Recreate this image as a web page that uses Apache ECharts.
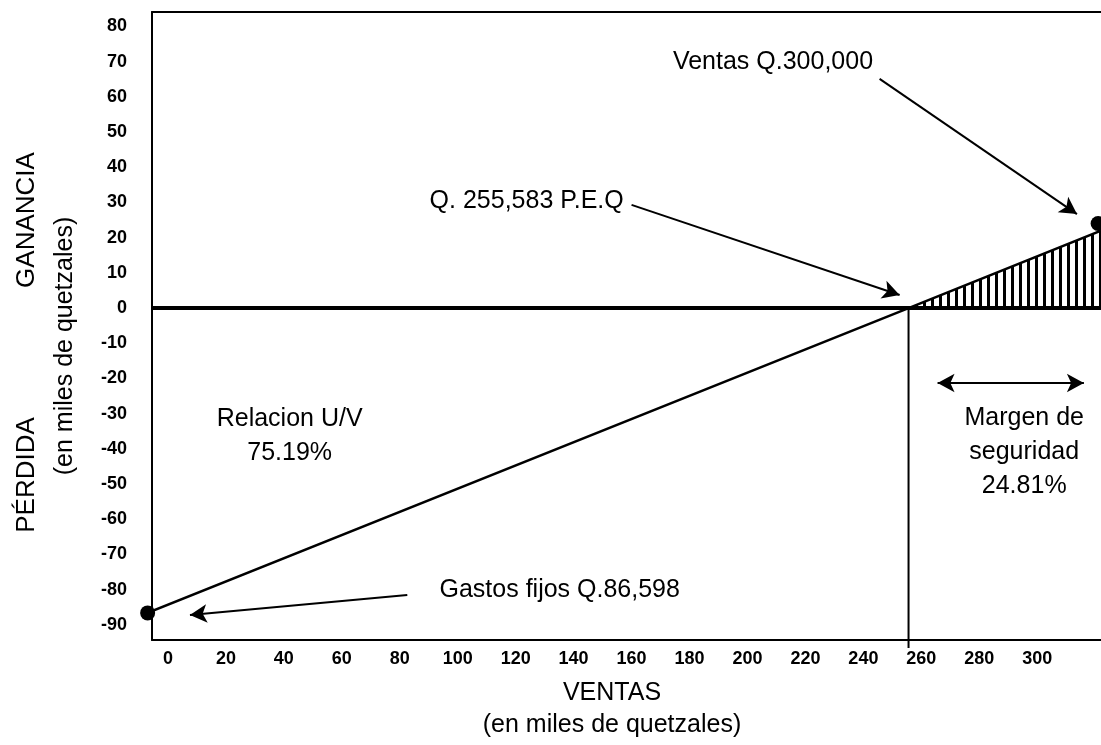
<!DOCTYPE html>
<html>
<head>
<meta charset="utf-8">
<script src="https://cdn.jsdelivr.net/npm/echarts@6/dist/echarts.min.js"></script>
<style>
html,body{margin:0;padding:0;background:#fff;}
#chart{width:1101px;height:745px;}
</style>
</head>
<body>
<div id="chart"></div>
<script>
// ---- data (miles de quetzales) ----
const salesTicks = [0,20,40,60,80,100,120,140,160,180,200,220,240,260,280,300];
const profitTicks = [-90,-80,-70,-60,-50,-40,-30,-20,-10,0,10,20,30,40,50,60,70,80];
const fixedCosts = -86.598;
const breakEvenSales = 255.583;
const profitLine = [[-7, fixedCosts], [breakEvenSales, 0], [322, 22]];
const profitArea = [[breakEvenSales, 0], [322, 22]];
const zeroLine = [[-5.5, 0], [322, 0]];
const breakEvenDrop = [[breakEvenSales, 0], [breakEvenSales, -96.6]];
const endDots = [[-7, fixedCosts], [321, 24]];

// annotation texts placed in data coordinates
const noteTexts = [
  {text: 'Ventas Q.300,000', at: [208.8, 69.9]},
  {text: 'Q. 255,583 P.E.Q', at: [123.8, 30.4]},
  {text: 'Gastos fijos Q.86,598', at: [135.2, -80.1]},
  {text: 'Relacion U/V\n75.19%', at: [42.0, -36.4]},
  {text: 'Margen de\nseguridad\n24.81%', at: [295.5, -40.9]}
];
const noteArrows = [
  {from: [245.6, 65.1], to: [313.7, 26.7], both: false},
  {from: [160.0, 29.3], to: [252.5, 3.7], both: false},
  {from: [82.6, -81.5], to: [7.6, -87.2], both: false},
  {from: [265.6, -21.3], to: [316.1, -21.3], both: true}
];

const FONT = '"Liberation Sans", Arial, Helvetica, sans-serif';

// hatch pattern
const pat = document.createElement('canvas');
pat.width = 8; pat.height = 8;
const pctx = pat.getContext('2d');
pctx.fillStyle = '#000';
pctx.fillRect(3, 0, 3, 8);

const chart = echarts.init(document.getElementById('chart'), null, {renderer: 'canvas'});

const axisLabelStyle = {color: '#000', fontSize: 18, fontWeight: 'bold', fontFamily: FONT};

const option = {
  animation: false,
  backgroundColor: '#fff',
  grid: {left: 152, right: 0, top: 12, bottom: 105, show: false},
  xAxis: [
    {
      type: 'value', min: -5.5, max: 322, position: 'bottom',
      axisLine: {show: true, onZero: false, lineStyle: {color: '#000', width: 2}},
      axisTick: {show: false},
      splitLine: {show: false},
      axisLabel: Object.assign({customValues: salesTicks, margin: 10}, axisLabelStyle)
    },
    {
      type: 'value', min: -5.5, max: 322, position: 'top',
      axisLine: {show: true, onZero: false, lineStyle: {color: '#000', width: 2}},
      axisTick: {show: false},
      splitLine: {show: false},
      axisLabel: {show: false}
    }
  ],
  yAxis: {
    type: 'value', min: -94.3, max: 84.1,
    axisLine: {show: true, onZero: false, lineStyle: {color: '#000', width: 2}},
    axisTick: {show: false},
    splitLine: {show: false},
    axisLabel: Object.assign({customValues: profitTicks, margin: 25}, axisLabelStyle)
  },
  title: [
    {text: 'VENTAS', left: 607, top: 676, textAlign: 'center',
     textStyle: {fontSize: 25, fontWeight: 'normal', color: '#000', fontFamily: FONT}},
    {text: '(en miles de quetzales)', left: 607, top: 708, textAlign: 'center',
     textStyle: {fontSize: 25, fontWeight: 'normal', color: '#000', fontFamily: FONT}}
  ],
  graphic: [
    {type: 'text', x: 27, y: 220, rotation: Math.PI / 2,
     style: {text: 'GANANCIA', textAlign: 'center', textVerticalAlign: 'middle', fontSize: 26, fontFamily: FONT, fill: '#000'}},
    {type: 'text', x: 27, y: 475, rotation: Math.PI / 2,
     style: {text: 'PÉRDIDA', textAlign: 'center', textVerticalAlign: 'middle', fontSize: 26, fontFamily: FONT, fill: '#000'}},
    {type: 'text', x: 65, y: 346, rotation: Math.PI / 2,
     style: {text: '(en miles de quetzales)', textAlign: 'center', textVerticalAlign: 'middle', fontSize: 25, fontFamily: FONT, fill: '#000'}}
  ],
  series: [
    {
      name: 'margen', type: 'line', data: profitArea, showSymbol: false,
      lineStyle: {width: 0}, areaStyle: {color: {image: pat, repeat: 'repeat'}, opacity: 1},
      silent: true, z: 1
    },
    {
      name: 'cero', type: 'line', data: zeroLine, showSymbol: false,
      lineStyle: {color: '#000', width: 4}, silent: true, z: 3
    },
    {
      name: 'peq', type: 'line', data: breakEvenDrop, showSymbol: false, clip: false,
      lineStyle: {color: '#000', width: 2}, silent: true, z: 3
    },
    {
      name: 'utilidad', type: 'line', data: profitLine, showSymbol: false, clip: false,
      lineStyle: {color: '#000', width: 2.5}, silent: true, z: 4,
      markLine: {
        silent: true, animation: false,
        lineStyle: {color: '#000', width: 2, type: 'solid'},
        label: {show: false},
        data: noteArrows.map(a => [
          {coord: a.from, symbol: a.both ? 'arrow' : 'none', symbolSize: [14, 17]},
          {coord: a.to, symbol: 'arrow', symbolSize: [14, 17]}
        ])
      }
    },
    {
      name: 'puntos', type: 'scatter', data: endDots, symbolSize: 15, clip: false,
      itemStyle: {color: '#000', opacity: 1}, silent: true, z: 5
    },
    {
      name: 'notas', type: 'scatter', symbolSize: 0, silent: true, z: 6,
      itemStyle: {color: '#000', opacity: 1},
      data: noteTexts.map(n => ({value: n.at, name: n.text})),
      label: {
        show: true, position: 'inside', formatter: p => p.name, opacity: 1,
        color: '#000', fontSize: 25, lineHeight: 34, fontFamily: FONT, align: 'center', verticalAlign: 'middle'
      }
    }
  ]
};
chart.setOption(option);
</script>
</body>
</html>
